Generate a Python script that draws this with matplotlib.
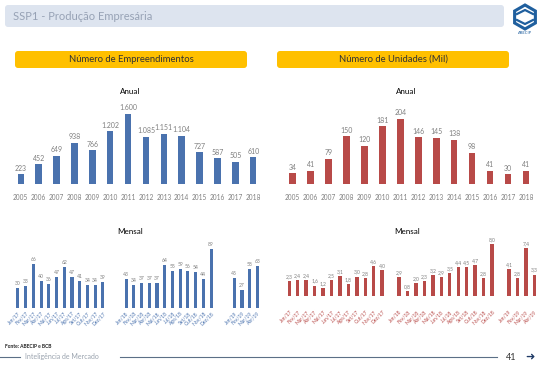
import matplotlib
matplotlib.use("Agg")
import matplotlib.pyplot as plt
from matplotlib.patches import FancyBboxPatch, RegularPolygon
import numpy as np

plt.rcParams['font.family'] = ['Lato', 'DejaVu Sans']

W, H = 544, 369

years = ['2005', '2006', '2007', '2008', '2009', '2010', '2011', '2012', '2013',
         '2014', '2015', '2016', '2017', '2018']
emp_annual = [223, 452, 649, 938, 766, 1202, 1600, 1085, 1151, 1104, 727, 587, 505, 610]
uni_annual = [34, 41, 79, 150, 120, 181, 204, 146, 145, 138, 98, 41, 30, 41]

months_2017 = ['Jan/17', 'Fev/17', 'Mar/17', 'Abr/17', 'Mai/17', 'Jun/17',
               'Jul/17', 'Ago/17', 'Set/17', 'Out/17', 'Nov/17', 'Dez/17']
months_2018 = ['Jan/18', 'Fev/18', 'Mar/18', 'Abr/18', 'Mai/18', 'Jun/18',
               'Jul/18', 'Ago/18', 'Set/18', 'Out/18', 'Nov/18', 'Dez/18']
months_2019 = ['Jan/19', 'Fev/19', 'Mar/19', 'Abr/19']

emp_2017 = [30, 33, 66, 40, 36, 47, 62, 47, 41, 34, 34, 39]
emp_2018 = [43, 34, 37, 37, 37, 64, 55, 59, 56, 54, 44, 89]
emp_2019 = [45, 27, 58, 63]

uni_2017 = [2.3, 2.4, 2.4, 1.6, 1.2, 2.5, 3.1, 1.8, 3.0, 2.8, 4.6, 4.0]
uni_2018 = [2.9, 0.8, 2.0, 2.3, 3.2, 2.9, 3.5, 4.4, 4.5, 4.7, 2.8, 8.0]
uni_2019 = [4.1, 2.8, 7.4, 3.3]

BLUE = '#4a72ae'
RED = '#b84a48'
GRAY = '#7f7f7f'

fig = plt.figure(figsize=(W / 100, H / 100), dpi=100)


def px_axes(x0, y0, x1, y1):
    return fig.add_axes([x0 / W, 1 - y1 / H, (x1 - x0) / W, (y1 - y0) / H])


bg = fig.add_axes([0, 0, 1, 1])
bg.set_xlim(0, W)
bg.set_ylim(H, 0)
bg.axis('off')

# header band
bg.add_patch(FancyBboxPatch((5, 5), 499, 22, boxstyle='round,pad=0,rounding_size=3',
                            fc='#dde4ef', ec='none'))
bg.text(13, 16.5, 'SSP1 - Produção Empresária', fontsize=8, color='#97a2b5',
        va='center', ha='left')

# logo
bg.add_patch(RegularPolygon((525, 17), 6, radius=12, orientation=0,
                            fc='white', ec='#1f5f9e', lw=2.2))
bg.plot([517, 525, 533], [14, 10, 14], color='#1f5f9e', lw=1.6)
bg.plot([517, 525, 533], [20, 24, 20], color='#1f5f9e', lw=1.6)
bg.text(525, 33, 'ABECIP', fontsize=3, color='#1f5f9e', ha='center', va='center')

# yellow boxes
for x0, x1, txt in [(15, 247, 'Número de Empreendimentos'),
                    (277, 509, 'Número de Unidades (Mil)')]:
    bg.add_patch(FancyBboxPatch((x0, 51), x1 - x0, 17,
                                boxstyle='round,pad=0,rounding_size=3',
                                fc='#ffc000', ec='none'))
    bg.text((x0 + x1) / 2, 59.5, txt, fontsize=6.8, color='#333333',
            ha='center', va='center')

for xc, yc, t in [(130, 91.5, 'Anual'), (406, 91.5, 'Anual'),
                  (130, 231, 'Mensal'), (407, 231, 'Mensal')]:
    bg.text(xc, yc, t, fontsize=5.8, color='black', ha='center', va='center')


def fmt_int(v):
    return f'{v:,}'.replace(',', '.')


def fmt_dec(v):
    return f'{v:.1f}'.replace('.', ',')


def annual(ax, vals, color, ymax, fmt):
    x = np.arange(len(years))
    ax.bar(x, vals, width=0.36, color=color)
    for xi, v in zip(x, vals):
        ax.text(xi, v + ymax * 0.03, fmt(v), fontsize=5, color=GRAY,
                ha='center', va='bottom')
    ax.set_xlim(-0.5, len(years) - 0.5)
    ax.set_ylim(0, ymax)
    ax.set_xticks(x)
    ax.set_xticklabels(years, fontsize=4.7, color=GRAY)
    ax.tick_params(length=0, pad=7)
    ax.set_yticks([])
    for s in ax.spines.values():
        s.set_visible(False)
    ax.patch.set_alpha(0)


ax1 = px_axes(11.8, 100, 262.2, 184)
annual(ax1, emp_annual, BLUE, 1920, fmt_int)
ax2 = px_axes(283.7, 100, 535, 184)
annual(ax2, uni_annual, RED, 263, lambda v: str(v))


def monthly(ax, groups, labels, color, ylim, fmt, gap):
    pos = []
    start = 0
    for g in groups:
        pos.extend(range(start, start + len(g)))
        start += len(g) + gap
    vals = [v for g in groups for v in g]
    ax.bar(pos, vals, width=0.4, color=color)
    for p, v in zip(pos, vals):
        ax.text(p, v + (ylim[1] - ylim[0]) * 0.03, fmt(v), fontsize=3.6, color=GRAY,
                ha='center', va='bottom')
    ax.set_xlim(-0.5, pos[-1] + 0.5)
    ax.set_ylim(*ylim)
    ax.set_xticks(pos)
    ax.set_xticklabels(labels, fontsize=3.6, color=color, rotation=45,
                       ha='right', rotation_mode='anchor')
    ax.tick_params(length=0, pad=2)
    ax.set_yticks([])
    for s in ax.spines.values():
        s.set_visible(False)
    ax.patch.set_alpha(0)


ax3 = px_axes(14, 240, 261.3, 308)
monthly(ax3, [emp_2017, emp_2018, emp_2019], months_2017 + months_2018 + months_2019,
        BLUE, (0, 102), str, 2)
ax4 = px_axes(285, 240, 538.5, 306.5)
monthly(ax4, [uni_2017, uni_2018, uni_2019], months_2017 + months_2018 + months_2019,
        RED, (-1.6, 8.6), fmt_dec, 1)

# footer
bg.text(5, 347, 'Fonte: ABECIP e BCB', fontsize=3.5, color='#222222',
        fontweight='bold', va='center')
bg.plot([0, 20], [357, 357], color='#5b6f86', lw=0.8)
bg.text(25, 357, 'Inteligência de Mercado', fontsize=5, color='#9aa3ae', va='center')
bg.plot([120, 497], [357, 357], color='#5b6f86', lw=0.8)
bg.text(511, 357, '41', fontsize=6.5, color='#333333', va='center', ha='center')
bg.text(530, 357, '➜', fontsize=8, color='#1f3a66', va='center', ha='center',
        family='DejaVu Sans', fontweight='bold')

fig.savefig('out.png', dpi=100)
